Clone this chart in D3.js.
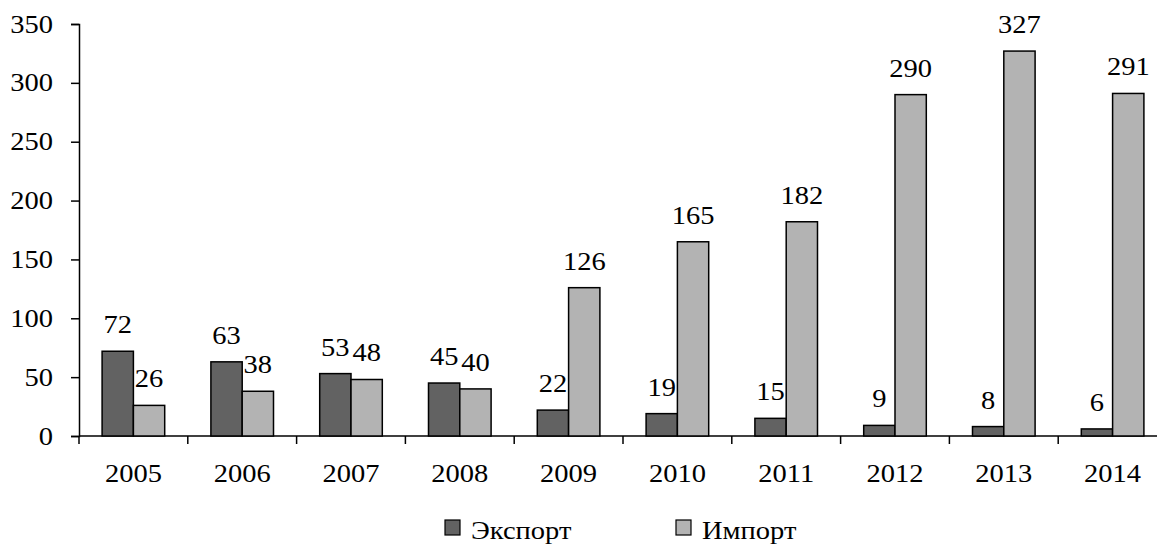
<!DOCTYPE html>
<html>
<head>
<meta charset="utf-8">
<script src="https://cdn.jsdelivr.net/npm/d3@7/dist/d3.min.js"></script>
<style>
  body { margin: 0; background: #fff; }
</style>
</head>
<body>
<svg id="chart" width="1157" height="544"></svg>
<script>
// data
const years = ['2005', '2006', '2007', '2008', '2009', '2010', '2011', '2012', '2013', '2014'];
const exportVals = [72, 63, 53, 45, 22, 19, 15, 9, 8, 6];
const importVals = [26, 38, 48, 40, 126, 165, 182, 290, 327, 291];
const yTicks = [0, 50, 100, 150, 200, 250, 300, 350];
const seriesNames = ['Экспорт', 'Импорт'];
const seriesColors = ['#626262', '#b3b3b3'];

const svg = d3.select('#chart');
const plotLeft = 79, plotBottom = 436, plotTop = 24, bandW = 108.8;
const FONT = 'Tinos, "Liberation Serif", "Times New Roman", serif';
const FS = '25px', SX = 1.14; // reference text is a bit stretched sideways

// serif label, widened like the reference
function label(sel, anchor) {
  return sel.style('font-family', FONT).style('font-size', FS).attr('fill', '#000')
    .attr('text-anchor', anchor || 'middle');
}
function place(px, py) { return `translate(${px},${py}) scale(${SX},1)`; }

const x = d3.scaleBand().domain(years).range([plotLeft, plotLeft + bandW * years.length])
  .paddingInner(0).paddingOuter(0);
// two bars side by side in the middle of each category
const inner = d3.scaleBand().domain([0, 1]).range([23.1, 85.7]).padding(0);
const y = d3.scaleLinear().domain([0, 350]).range([plotBottom, plotTop]);

// y axis
const yAxis = svg.append('g').attr('transform', `translate(${plotLeft},0)`)
  .call(d3.axisLeft(y).tickValues(yTicks).tickSize(8).tickFormat(''));
yAxis.select('.domain').attr('stroke', '#000').attr('stroke-width', 1.5);
yAxis.selectAll('.tick line').attr('stroke-width', 1.5);
label(svg.append('g').selectAll('text').data(yTicks).enter().append('text'), 'end')
  .attr('transform', d => place(53, y(d) + 8.5))
  .text(d => d);

// x axis: ticks at band boundaries
const xAxis = svg.append('g').attr('transform', `translate(0,${plotBottom})`);
xAxis.append('line').attr('x1', plotLeft).attr('x2', 1157).attr('stroke', '#000').attr('stroke-width', 1.5);
xAxis.selectAll('line.tk').data(years).enter().append('line').attr('class', 'tk')
  .attr('x1', d => x(d)).attr('x2', d => x(d)).attr('y1', 0).attr('y2', 8)
  .attr('stroke', '#000').attr('stroke-width', 1.5);
label(xAxis.selectAll('text').data(years).enter().append('text'))
  .attr('transform', d => place(x(d) + x.bandwidth() / 2, 46))
  .text(d => d);

// bars
const groups = svg.append('g').selectAll('g').data(years).enter().append('g')
  .attr('transform', d => `translate(${x(d)},0)`);
[exportVals, importVals].forEach((vals, s) => {
  groups.append('rect')
    .attr('x', inner(s)).attr('width', inner.bandwidth())
    .attr('y', (d, i) => y(vals[i])).attr('height', (d, i) => plotBottom - y(vals[i]))
    .attr('fill', seriesColors[s]).attr('stroke', '#000').attr('stroke-width', 1.5);
  label(groups.append('text'))
    .attr('transform', (d, i) => place(inner(s) + inner.bandwidth() / 2, y(vals[i]) - 18))
    .text((d, i) => vals[i]);
});

// legend
const legendX = [445, 676];
const legend = svg.append('g').selectAll('g').data(seriesNames).enter().append('g')
  .attr('transform', (d, i) => `translate(${legendX[i]},520)`);
legend.append('rect').attr('width', 15).attr('height', 15)
  .attr('fill', (d, i) => seriesColors[i]).attr('stroke', '#000').attr('stroke-width', 1.2);
label(legend.append('text'), 'start').attr('transform', place(26, 19)).text(d => d);
</script>
</body>
</html>
